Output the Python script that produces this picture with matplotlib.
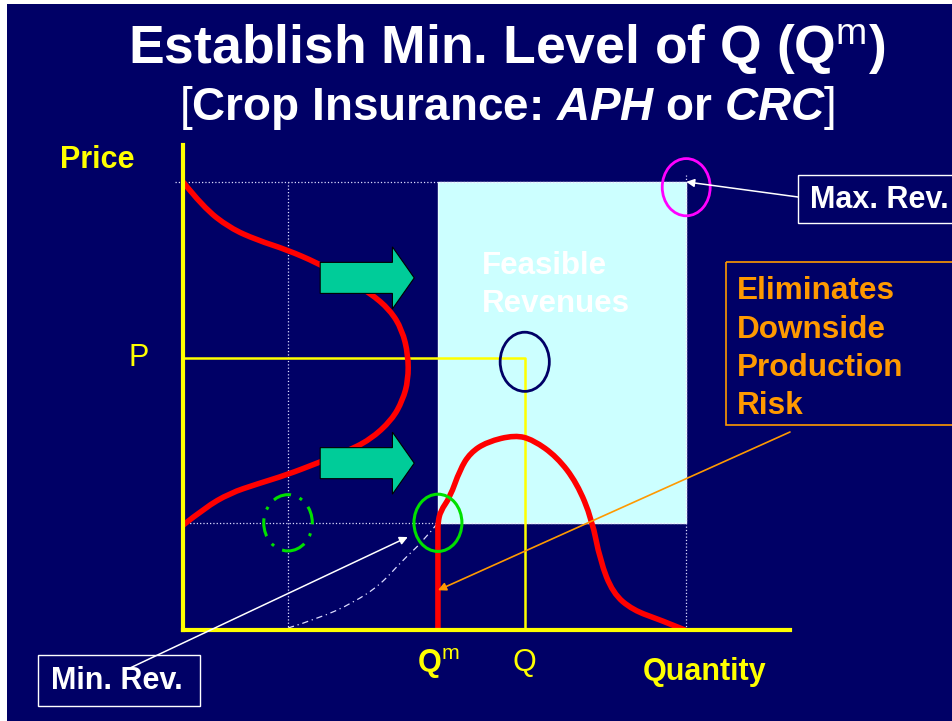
import matplotlib
matplotlib.use('Agg')
import matplotlib.pyplot as plt
import matplotlib.patches as mpatches
from matplotlib.path import Path

plt.rcParams['font.family'] = ['Liberation Sans', 'DejaVu Sans']
plt.rcParams['mathtext.fontset'] = 'custom'
plt.rcParams['mathtext.rm'] = 'Liberation Sans'
plt.rcParams['mathtext.bf'] = 'Liberation Sans:bold'
plt.rcParams['mathtext.it'] = 'Liberation Sans:bold:italic'

# key levels (quantity / price, 0-100 scale)
q_min = 42.0     # Qm
q_p = 56.3       # Q
q_max = 82.9
q_grid = 17.3
p_max = 92.4
p_p = 56.1
p_min = 22.1

# price distribution drawn along the price axis
price_dens_x = [0, 3.3, 7.7, 12.2, 17.1, 22.1, 26.7, 30.8, 34.1, 36.1, 37.1,
                37.1, 36.2, 34.4, 30.8, 26.7, 22.1, 17.1, 12.2, 7.7, 3.6, 0]
price_dens_y = [92.4, 87.2, 82.9, 80.4, 78.4, 75.7, 72.6, 69.5, 66.0, 61.9, 56.7,
                51.5, 47.4, 43.3, 39.2, 36.7, 34.4, 32.0, 30.1, 28.2, 25.2, 21.6]

# truncated yield distribution (starts at Qm)
yield_x = [42.0, 42.0, 42.0, 42.4, 44.0, 45.6, 47.3, 50.1, 54.7, 57.7, 61.6, 64.9,
           67.4, 68.7, 70.8, 74.1, 78.6, 82.7]
yield_y = [0, 20.0, 22.1, 24.5, 27.4, 33.0, 36.5, 38.8, 40.2, 39.2, 35.7, 30.3,
           22.7, 14.4, 7.6, 4.1, 2.1, 0]

# minimum revenue curve
minrev_x = [17.3, 22.6, 28.0, 32.5, 36.2, 39.4, 42.0]
minrev_y = [0.4, 2.5, 5.6, 9.3, 14.4, 18.1, 22.1]

navy = '#000066'
yellow = '#FFFF00'
orange = '#FF9900'


def smooth_path(xs, ys):
    # quadratic bezier through midpoints, using the read points as controls
    pts = list(zip(xs, ys))
    verts = [pts[0]]
    codes = [Path.MOVETO]
    for i in range(1, len(pts) - 1):
        mid = ((pts[i][0] + pts[i + 1][0]) / 2, (pts[i][1] + pts[i + 1][1]) / 2)
        if i == len(pts) - 2:
            mid = pts[-1]
        verts += [pts[i], mid]
        codes += [Path.CURVE3, Path.CURVE3]
    return Path(verts, codes)


fig = plt.figure(figsize=(9.53, 7.21), dpi=100)
fig.patch.set_facecolor('white')

# slide background in pixel coordinates
bg = fig.add_axes([0, 0, 1, 1])
bg.set_xlim(0, 953)
bg.set_ylim(721, 0)
bg.axis('off')
bg.add_patch(mpatches.Rectangle((7, 4), 950, 720, facecolor=navy, edgecolor='none'))

# titles
bg.text(507, 50, r'Establish Min. Level of Q (Q$^{\mathrm{m}}$)', color='white',
        fontsize=38.5, fontweight='bold', ha='center', va='center')
bg.text(507, 108, r'$\mathrm{[}$Crop Insurance: $\mathit{APH}$ or $\mathit{CRC}\mathrm{]}$',
        color='white', fontsize=33, fontweight='bold', ha='center', va='center')

bg.text(97, 160, 'Price', color=yellow, fontsize=22, fontweight='bold', ha='center', va='center')
bg.text(705, 672, 'Quantity', color=yellow, fontsize=22, fontweight='bold', ha='center', va='center')

# label boxes
bg.add_patch(mpatches.Rectangle((798, 175), 170, 48, facecolor='none', edgecolor='white', lw=1))
bg.text(810, 200, 'Max. Rev.', color='white', fontsize=22, fontweight='bold', va='center')
bg.add_patch(mpatches.Rectangle((38, 655), 162, 51, facecolor='none', edgecolor='white', lw=1))
bg.text(51, 681, 'Min. Rev.', color='white', fontsize=22, fontweight='bold', va='center')
bg.add_patch(mpatches.Rectangle((726, 262), 240, 163, facecolor='none', edgecolor=orange, lw=1.2))
for i, line in enumerate(['Eliminates', 'Downside', 'Production', 'Risk']):
    bg.text(737, 299 + i * 38.5, line, color=orange, fontsize=22.7, fontweight='bold', va='baseline')

# chart axes
ax = fig.add_axes([183 / 953, 91 / 721, 607 / 953, 485 / 721])
ax.set_facecolor('none')
ax.set_xlim(0, 100)
ax.set_ylim(0, 100)
ax.set_xticks([])
ax.set_yticks([])
for s in ['top', 'right']:
    ax.spines[s].set_visible(False)
for s in ['left', 'bottom']:
    ax.spines[s].set_color(yellow)
    ax.spines[s].set_linewidth(3)
    ax.spines[s].set_zorder(6)

# feasible revenue region
ax.add_patch(mpatches.Rectangle((q_min, p_min), q_max - q_min, p_max - p_min,
                                facecolor='#CCFFFF', edgecolor='#E8FFFF', lw=1, zorder=1))
ax.text(482, 274, 'Feasible', color='white', fontsize=22.5, fontweight='bold',
        va='baseline', transform=bg.transData, zorder=2)
ax.text(482, 312, 'Revenues', color='white', fontsize=22.5, fontweight='bold',
        va='baseline', transform=bg.transData, zorder=2)

# dotted guide lines
dot = dict(color='#DDDDFF', lw=0.9, ls=':', zorder=2, clip_on=False)
ax.plot([-1.3, q_max], [p_max, p_max], **dot)
ax.plot([0, q_max], [p_min, p_min], **dot)
ax.plot([q_grid, q_grid], [0, p_max], **dot)
ax.plot([q_max, q_max], [0, p_max + 1.5], **dot)

# minimum revenue curve
ax.add_patch(mpatches.PathPatch(smooth_path(minrev_x, minrev_y), facecolor='none',
                                edgecolor='#DDDDFF', lw=0.9, ls=(0, (5, 3, 1, 3)), zorder=2))

# P and Q lines
ax.plot([0, q_p, q_p], [p_p, p_p, 0], color=yellow, lw=1.8, zorder=3)

# distributions
for xs, ys in [(price_dens_x, price_dens_y), (yield_x, yield_y)]:
    ax.add_patch(mpatches.PathPatch(smooth_path(xs, ys), facecolor='none', edgecolor='#FF0000',
                                    lw=4, capstyle='butt', joinstyle='round', zorder=4))

# shift arrows
for y in [72.6, 34.4]:
    ax.add_patch(mpatches.FancyArrow(22.6, y, 15.5, 0, width=6.4, head_width=12.8,
                                     head_length=3.6, length_includes_head=True,
                                     facecolor='#00CC99', edgecolor='black', lw=0.8, zorder=5))

# circles
ax.add_patch(mpatches.Ellipse((q_p, p_p - 0.8), 8.1, 12.2, facecolor='none', edgecolor=navy, lw=2, zorder=6))
ax.add_patch(mpatches.Ellipse((q_max, p_max - 1.1), 7.9, 11.8, facecolor='none', edgecolor='#FF00FF', lw=2, zorder=6))
ax.add_patch(mpatches.Ellipse((q_min, p_min), 7.9, 11.8, facecolor='none', edgecolor='#00E000', lw=2.2, zorder=6))
ax.add_patch(mpatches.Ellipse((q_grid, p_min), 8.0, 11.6, facecolor='none', edgecolor='#00E000', lw=2.2,
                              ls=(0, (6, 3, 1, 3)), zorder=6))

# axis labels at levels
ax.annotate('P', xy=(0, p_p), xytext=(-32, 0), textcoords='offset points', color=yellow,
            fontsize=22, ha='center', va='center', annotation_clip=False)
ax.annotate(r'$\mathbf{Q}^{\mathrm{m}}$', xy=(q_min, 0), xytext=(0, -24), textcoords='offset points',
            color=yellow, fontsize=22, ha='center', va='center', annotation_clip=False)
ax.annotate('Q', xy=(q_p, 0), xytext=(0, -24), textcoords='offset points', color=yellow,
            fontsize=22, ha='center', va='center', annotation_clip=False)

# callout arrows
ax.annotate('', xy=(q_max, p_max), xytext=(798, 197), textcoords=bg.transData,
            arrowprops=dict(arrowstyle='-|>', color='white', lw=1.1, mutation_scale=12,
                            shrinkA=0, shrinkB=0), zorder=7)
ax.annotate('', xy=(q_min, p_min), xytext=(130, 668), textcoords=bg.transData,
            arrowprops=dict(arrowstyle='-|>', color='white', lw=1.1, mutation_scale=12,
                            shrinkA=0, shrinkB=24), zorder=7, annotation_clip=False)
ax.annotate('', xy=(q_min, 8.2), xytext=(790, 432), textcoords=bg.transData,
            arrowprops=dict(arrowstyle='-|>', color=orange, lw=1.2, mutation_scale=12,
                            shrinkA=0, shrinkB=0), zorder=7)

fig.savefig('out.png', dpi=100, facecolor='white')
